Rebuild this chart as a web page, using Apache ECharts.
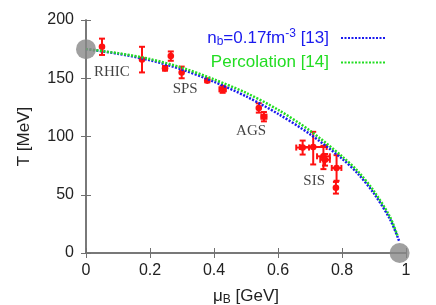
<!DOCTYPE html>
<html><head><meta charset="utf-8">
<script src="https://cdn.jsdelivr.net/npm/echarts@6/dist/echarts.min.js"></script>
<style>html,body{margin:0;padding:0;background:#fff}#c{width:436px;height:305px}</style>
</head><body><div id="c"></div>
<script>
// Axis ticks
const xTicks = [0, 0.2, 0.4, 0.6, 0.8, 1];
const yTicks = [0, 50, 100, 150, 200];

// Freeze-out curves
const blueMu = [0, 0.1, 0.2, 0.3, 0.4, 0.5, 0.6, 0.7, 0.8, 0.85, 0.9, 0.95, 0.979];
const blueT  = [175, 171, 165.5, 157.5, 147, 134.5, 119.5, 102, 81, 68, 51, 29, 10];
const greenMu = [0, 0.1, 0.2, 0.3, 0.4, 0.5, 0.6, 0.7, 0.8, 0.85, 0.9, 0.95, 0.973];
const greenT  = [175, 171.5, 166.5, 159, 149, 137.5, 123, 105, 83, 70, 53, 31, 15];

// Experimental freeze-out points
const ptMu    = [0.05, 0.175, 0.247, 0.265, 0.299, 0.379, 0.427, 0.54, 0.556, 0.677, 0.71, 0.742, 0.747, 0.783, 0.781];
const ptT     = [177, 166, 158.5, 169, 155, 148, 140.5, 124.5, 117, 90.5, 91, 83, 80, 73, 56];
const ptMuErr = [0, 0, 0, 0, 0, 0, 0.01, 0, 0.008, 0.02, 0.042, 0.02, 0.015, 0.015, 0];
const ptTUp   = [7, 11, 2, 4, 5, 1.5, 3, 4, 4, 6, 13, 9, 5, 11, 5];
const ptTDown = [7, 11, 2, 4, 5, 1.5, 3, 4, 4, 6, 15, 11, 5, 11, 5];

// End points (gray circles)
const endMu = [0, 0.98];
const endT  = [175, 0];

// Annotations
const labelNames = ['RHIC', 'SPS', 'AGS', 'SIS'];
const labelMu = [0.081, 0.31, 0.516, 0.713];
const labelT  = [155, 140.5, 104.3, 62];

const chart = echarts.init(document.getElementById('c'));
const axisCol = '#707070';
const txtCol = '#222';
const FONT = 'Liberation Sans';

function zip(a, b) { return a.map((v, i) => [v, b[i]]); }

const errData = ptMu.map((m, i) => [m, ptT[i], ptMuErr[i], ptTUp[i], ptTDown[i]]);

const option = {
  animation: false,
  textStyle: { fontFamily: FONT },
  grid: { left: 86, right: 30, top: 20, bottom: 52, containLabel: false, outerBoundsMode: 'none' },
  legend: {
    orient: 'vertical', right: 44, top: 23, align: 'right',
    itemWidth: 45, itemHeight: 10, itemGap: 3,
    itemStyle: { color: 'transparent', borderWidth: 0, opacity: 0 },
    data: [
      { name: 'nb', textStyle: { color: '#1a1aee' } },
      { name: 'perc', textStyle: { color: '#22dd22' } }
    ],
    formatter: function (n) {
      if (n === 'nb') return '{a|n}{s|b}{a|=0.17fm}{p|-3}{a| [13]}{g|}';
      return '{a|Percolation [14]}{g|}';
    },
    textStyle: {
      fontFamily: FONT, fontSize: 17,
      rich: {
        a: { fontSize: 17, fontFamily: FONT, lineHeight: 20 },
        s: { fontSize: 12, fontFamily: FONT, lineHeight: 20, verticalAlign: 'bottom', padding: [7, 0, 0, 0] },
        p: { fontSize: 12, fontFamily: FONT, lineHeight: 20, verticalAlign: 'top', padding: [0, 0, 11, 0] },
        g: { width: 7, lineHeight: 20 }
      }
    }
  },
  xAxis: [{
    type: 'value', min: 0, max: 1, interval: 0.2,
    name: '{a|μ}{s|B}{a| [GeV]}', nameLocation: 'middle', nameGap: 33, nameMoveOverlap: false,
    nameTextStyle: {
      color: txtCol, fontSize: 17, fontFamily: FONT,
      rich: {
        a: { fontSize: 17, fontFamily: FONT, color: txtCol },
        s: { fontSize: 12, fontFamily: FONT, color: txtCol, verticalAlign: 'bottom', padding: [8, 0, 0, 0] }
      }
    },
    axisLine: { show: true, lineStyle: { color: axisCol, width: 1.5 } },
    axisTick: { inside: true, length: 5, lineStyle: { color: axisCol } },
    axisLabel: { color: txtCol, fontSize: 16, margin: 10, formatter: v => String(+v.toFixed(1)) },
    splitLine: { show: false }
  }, {
    type: 'value', min: 0, max: 1, interval: 0.2, position: 'top',
    axisLine: { show: true, lineStyle: { color: axisCol, width: 1.5 } },
    axisTick: { inside: true, length: 5, lineStyle: { color: axisCol } },
    axisLabel: { show: false }, splitLine: { show: false }
  }],
  yAxis: [{
    type: 'value', min: 0, max: 200, interval: 50,
    name: 'T [MeV]', nameLocation: 'middle', nameGap: 53, nameRotate: 90, nameMoveOverlap: false,
    nameTextStyle: { color: txtCol, fontSize: 17, fontFamily: FONT },
    axisLine: { show: true, lineStyle: { color: axisCol, width: 1.5 } },
    axisTick: { inside: true, length: 5, lineStyle: { color: axisCol } },
    axisLabel: { color: txtCol, fontSize: 16, margin: 12 },
    splitLine: { show: false }
  }, {
    type: 'value', min: 0, max: 200, interval: 50, position: 'right',
    axisLine: { show: true, lineStyle: { color: axisCol, width: 1.5 } },
    axisTick: { inside: true, length: 5, lineStyle: { color: axisCol } },
    axisLabel: { show: false }, splitLine: { show: false }
  }],
  series: [
    {
      type: 'custom', name: 'data', z: 3,
      data: errData,
      renderItem: function (params, api) {
        const m = api.value(0), t = api.value(1), dm = api.value(2), up = api.value(3), dn = api.value(4);
        const c = api.coord([m, t]);
        const top = api.coord([m, t + up]);
        const bot = api.coord([m, t - dn]);
        const st = { stroke: '#ff1010', lineWidth: 2 };
        const ch = [];
        ch.push({ type: 'line', shape: { x1: c[0], y1: top[1], x2: c[0], y2: bot[1] }, style: st });
        ch.push({ type: 'line', shape: { x1: c[0] - 3, y1: top[1], x2: c[0] + 3, y2: top[1] }, style: st });
        ch.push({ type: 'line', shape: { x1: c[0] - 3, y1: bot[1], x2: c[0] + 3, y2: bot[1] }, style: st });
        if (dm > 0) {
          const l = api.coord([m - dm, t]), r = api.coord([m + dm, t]);
          ch.push({ type: 'line', shape: { x1: l[0], y1: c[1], x2: r[0], y2: c[1] }, style: st });
          ch.push({ type: 'line', shape: { x1: l[0], y1: c[1] - 3, x2: l[0], y2: c[1] + 3 }, style: st });
          ch.push({ type: 'line', shape: { x1: r[0], y1: c[1] - 3, x2: r[0], y2: c[1] + 3 }, style: st });
        }
        ch.push({ type: 'circle', shape: { cx: c[0], cy: c[1], r: 3.3 }, style: { fill: '#ff1010' } });
        return { type: 'group', children: ch };
      }
    },
    {
      type: 'line', name: 'nb', data: zip(blueMu, blueT), smooth: 0.3, symbol: 'none', z: 4,
      color: '#1a1aee',
      lineStyle: { color: '#1a1aee', width: 2.5, type: [2, 1.5] }
    },
    {
      type: 'line', name: 'perc', data: zip(greenMu, greenT), smooth: 0.3, symbol: 'none', z: 5,
      color: '#22dd22',
      lineStyle: { color: '#22dd22', width: 2.5, type: [2, 1.5] }
    },
    {
      type: 'scatter', name: 'ends', data: zip(endMu, endT), symbolSize: 20, z: 6,
      clip: false, itemStyle: { color: '#888888' }
    },
    {
      type: 'scatter', name: 'labels', symbolSize: 2, z: 7,
      itemStyle: { color: 'rgba(0,0,0,0)' },
      data: labelNames.map((n, i) => ({ name: n, value: [labelMu[i], labelT[i]] })),
      label: {
        show: true, position: 'inside', formatter: p => p.name,
        fontFamily: 'Liberation Serif', fontSize: 15, color: '#111'
      }
    }
  ]
};
chart.setOption(option);
</script>
</body></html>
